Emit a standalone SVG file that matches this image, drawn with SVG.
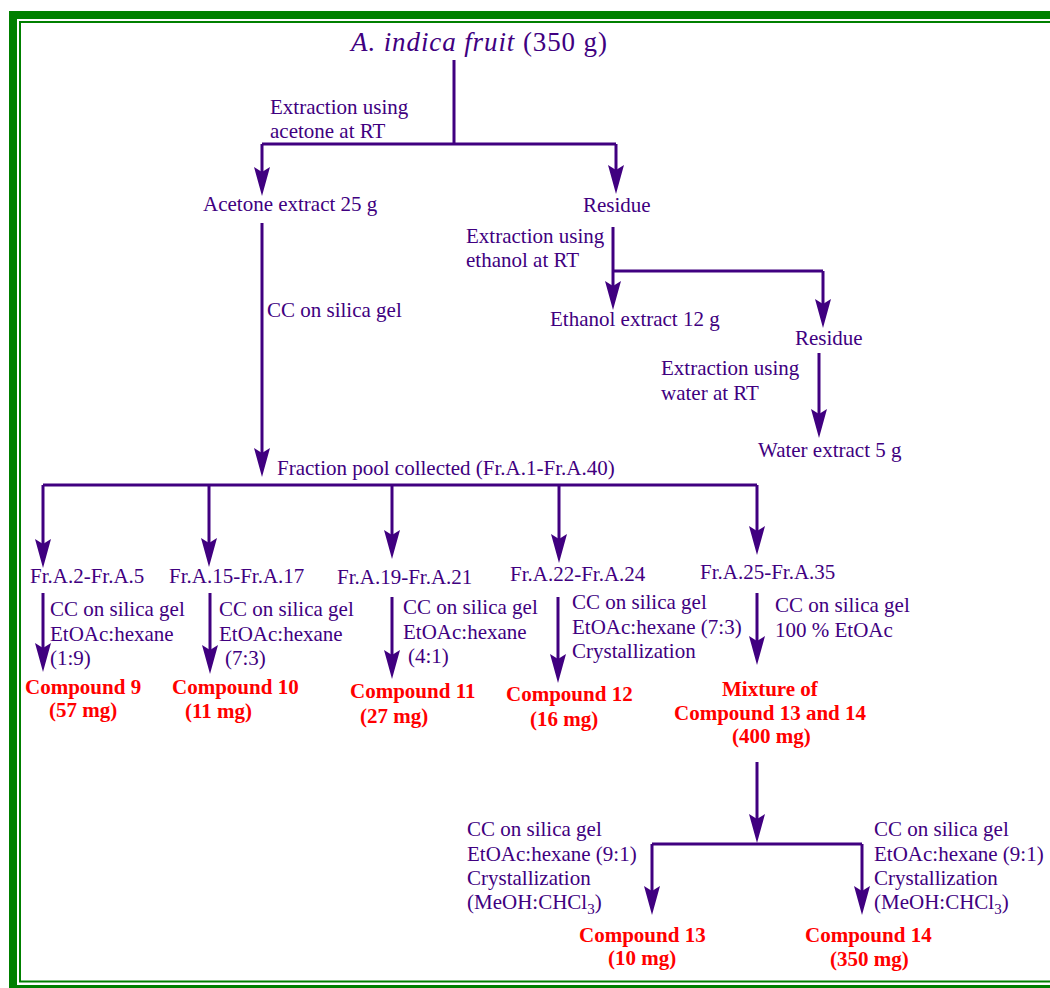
<svg xmlns="http://www.w3.org/2000/svg" width="1050" height="988" viewBox="0 0 1050 988">
  <style>
    .t { font-family: "Liberation Serif", "Times New Roman", serif; font-size: 21px; fill: #400080; }
    .c { font-family: "Liberation Serif", "Times New Roman", serif; font-size: 21px; font-weight: bold; fill: #ff0000; }
    .title { font-family: "Liberation Serif", "Times New Roman", serif; font-size: 27px; fill: #400080; }
    .ln { fill: none; stroke: #400080; stroke-width: 3; }
    .ar { fill: none; stroke: #400080; stroke-width: 3; marker-end: url(#head); }
  </style>
  <defs>
    <marker id="head" markerUnits="userSpaceOnUse" markerWidth="30" markerHeight="16" refX="9" refY="8" orient="auto">
      <path d="M0,0 L29,8 L0,16 L5,8 Z" fill="#400080"/>
    </marker>
  </defs>

  <rect width="1050" height="988" fill="#ffffff"/>

  <!-- double green frame -->
  <g id="frame">
    <rect x="13" y="15" width="1050" height="974" fill="none" stroke="#008000" stroke-width="8"/>
    <rect x="20" y="22" width="1040" height="959.5" fill="none" stroke="#008000" stroke-width="2"/>
  </g>

  <!-- connectors -->
  <g id="connectors">
    <!-- fruit split -->
    <path class="ln" d="M454,60 V144 M262,144 H616"/>
    <path class="ar" d="M262,144 V176"/>
    <path class="ar" d="M616,144 V174"/>
    <!-- residue split -->
    <path class="ar" d="M613,227 V290"/>
    <path class="ln" d="M613,271 H823"/>
    <path class="ar" d="M823,271 V308"/>
    <!-- water extraction -->
    <path class="ar" d="M819,353 V418"/>
    <!-- column chromatography -->
    <path class="ar" d="M262,223 V457"/>
    <path class="ln" d="M43,485 H757"/>
    <path class="ar" d="M43,485 V548"/>
    <path class="ar" d="M209,485 V547"/>
    <path class="ar" d="M392,485 V539"/>
    <path class="ar" d="M559,485 V543"/>
    <path class="ar" d="M757,485 V535"/>
    <!-- fraction work-up -->
    <path class="ar" d="M43,593 V652"/>
    <path class="ar" d="M210,593 V654"/>
    <path class="ar" d="M392,597 V659"/>
    <path class="ar" d="M558,597 V663"/>
    <path class="ar" d="M757,593 V645"/>
    <!-- mixture separation -->
    <path class="ar" d="M757,762 V823"/>
    <path class="ln" d="M652,844 H862"/>
    <path class="ar" d="M652,844 V895"/>
    <path class="ar" d="M862,844 V895"/>
  </g>

  <g id="fruit">
    <text class="title" x="351" y="51" textLength="256" lengthAdjust="spacing"><tspan font-style="italic">A. indica fruit</tspan> (350 g)</text>
  </g>
  <g id="step-acetone">
    <text class="t" x="270" y="114">Extraction using</text>
    <text class="t" x="270" y="138">acetone at RT</text>
  </g>
  <g id="acetone-extract">
    <text class="t" x="203" y="211">Acetone extract 25 g</text>
  </g>
  <g id="residue-1">
    <text class="t" x="583" y="212">Residue</text>
  </g>
  <g id="step-ethanol">
    <text class="t" x="466" y="243">Extraction using</text>
    <text class="t" x="466" y="267">ethanol at RT</text>
  </g>
  <g id="ethanol-extract">
    <text class="t" x="550" y="326">Ethanol extract 12 g</text>
  </g>
  <g id="residue-2">
    <text class="t" x="795" y="345">Residue</text>
  </g>
  <g id="step-water">
    <text class="t" x="661" y="375">Extraction using</text>
    <text class="t" x="661" y="400">water at RT</text>
  </g>
  <g id="water-extract">
    <text class="t" x="758" y="457">Water extract 5 g</text>
  </g>
  <g id="step-cc">
    <text class="t" x="267" y="317">CC on silica gel</text>
  </g>
  <g id="fraction-pool">
    <text class="t" x="277" y="475">Fraction pool collected (Fr.A.1-Fr.A.40)</text>
  </g>

  <g id="fr-2-5">
    <text class="t" x="30" y="583">Fr.A.2-Fr.A.5</text>
    <text class="t" x="50" y="616">CC on silica gel</text>
    <text class="t" x="50" y="641">EtOAc:hexane</text>
    <text class="t" x="50" y="665">(1:9)</text>
  </g>
  <g id="compound-9">
    <text class="c" x="25" y="694">Compound 9</text>
    <text class="c" x="49" y="717">(57 mg)</text>
  </g>

  <g id="fr-15-17">
    <text class="t" x="169" y="583">Fr.A.15-Fr.A.17</text>
    <text class="t" x="219" y="616">CC on silica gel</text>
    <text class="t" x="219" y="641">EtOAc:hexane</text>
    <text class="t" x="225" y="665">(7:3)</text>
  </g>
  <g id="compound-10">
    <text class="c" x="172" y="694">Compound 10</text>
    <text class="c" x="185" y="718">(11 mg)</text>
  </g>

  <g id="fr-19-21">
    <text class="t" x="337" y="584">Fr.A.19-Fr.A.21</text>
    <text class="t" x="403" y="614">CC on silica gel</text>
    <text class="t" x="403" y="639">EtOAc:hexane</text>
    <text class="t" x="408" y="663">(4:1)</text>
  </g>
  <g id="compound-11">
    <text class="c" x="350" y="698">Compound 11</text>
    <text class="c" x="360" y="723">(27 mg)</text>
  </g>

  <g id="fr-22-24">
    <text class="t" x="510" y="581">Fr.A.22-Fr.A.24</text>
    <text class="t" x="572" y="609">CC on silica gel</text>
    <text class="t" x="572" y="634">EtOAc:hexane (7:3)</text>
    <text class="t" x="572" y="658">Crystallization</text>
  </g>
  <g id="compound-12">
    <text class="c" x="506" y="701">Compound 12</text>
    <text class="c" x="530" y="726">(16 mg)</text>
  </g>

  <g id="fr-25-35">
    <text class="t" x="700" y="579">Fr.A.25-Fr.A.35</text>
    <text class="t" x="775" y="612">CC on silica gel</text>
    <text class="t" x="775" y="637">100 % EtOAc</text>
  </g>
  <g id="mixture">
    <text class="c" x="722" y="696">Mixture of</text>
    <text class="c" x="674" y="720">Compound 13 and 14</text>
    <text class="c" x="732" y="743">(400 mg)</text>
  </g>

  <g id="step-13">
    <text class="t" x="467" y="836">CC on silica gel</text>
    <text class="t" x="467" y="861">EtOAc:hexane (9:1)</text>
    <text class="t" x="467" y="885">Crystallization</text>
    <text class="t" x="467" y="909">(MeOH:CHCl<tspan font-size="15" dy="5">3</tspan><tspan dy="-5">)</tspan></text>
  </g>
  <g id="compound-13">
    <text class="c" x="579" y="942">Compound 13</text>
    <text class="c" x="608" y="965">(10 mg)</text>
  </g>

  <g id="step-14">
    <text class="t" x="874" y="836">CC on silica gel</text>
    <text class="t" x="874" y="861">EtOAc:hexane (9:1)</text>
    <text class="t" x="874" y="885">Crystallization</text>
    <text class="t" x="874" y="909">(MeOH:CHCl<tspan font-size="15" dy="5">3</tspan><tspan dy="-5">)</tspan></text>
  </g>
  <g id="compound-14">
    <text class="c" x="805" y="942">Compound 14</text>
    <text class="c" x="830" y="966">(350 mg)</text>
  </g>
</svg>
